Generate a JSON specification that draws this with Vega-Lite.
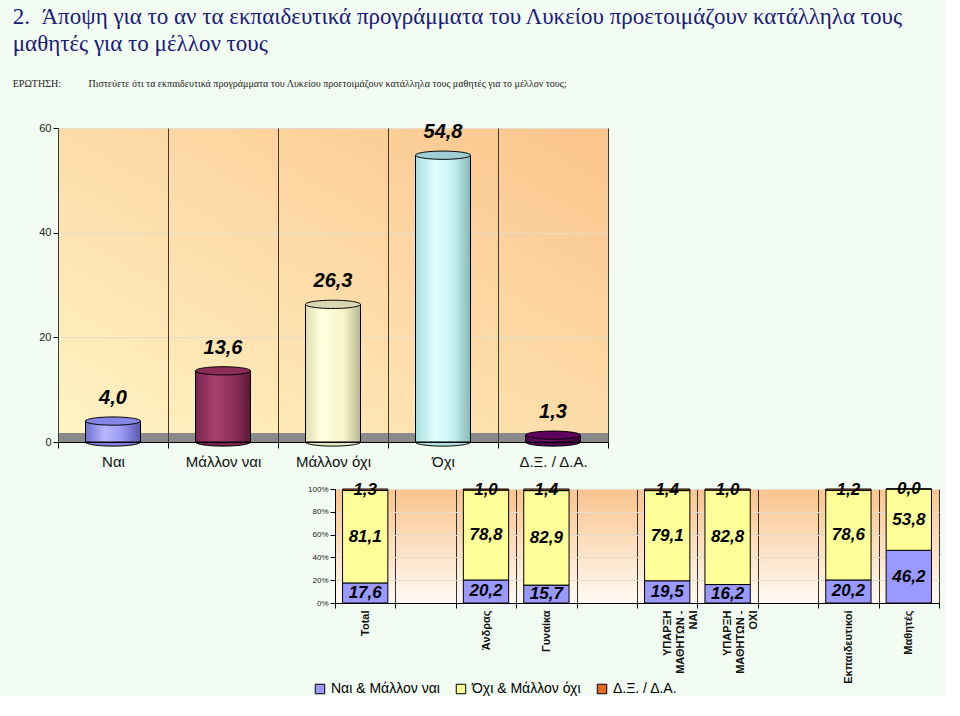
{
  "$schema": "https://vega.github.io/schema/vega-lite/v6.json",
  "background": "#f3fcf3",
  "padding": {"left": 12, "top": 6, "right": 5, "bottom": 0},
  "config": {
    "font": "Liberation Sans",
    "view": {"stroke": null}
  },
  "title": {
    "text": ["2.\u00a0\u00a0Άποψη για το αν τα εκπαιδευτικά προγράμματα του Λυκείου προετοιμάζουν κατάλληλα τους", "μαθητές για το μέλλον τους"],
    "subtitle": "\u00a0\u00a0\u00a0ΕΡΩΤΗΣΗ:\u00a0\u00a0\u00a0\u00a0\u00a0\u00a0\u00a0\u00a0\u00a0\u00a0\u00a0Πιστεύετε ότι τα εκπαιδευτικά προγράμματα του Λυκείου προετοιμάζουν κατάλληλα τους μαθητές για το μέλλον τους;",
    "anchor": "start",
    "frame": "bounds",
    "font": "Liberation Serif",
    "fontSize": 23,
    "fontWeight": "normal",
    "color": "#1a1a78",
    "lineHeight": 27,
    "subtitleFont": "Liberation Serif",
    "subtitleFontSize": 10,
    "subtitleColor": "#222222",
    "subtitlePadding": 23,
    "offset": 33
  },
  "spacing": 11,
  "vconcat": [
    {
      "spacing": 19,
      "hconcat": [
        {
          "width": 1,
          "height": 314,
          "data": {"values": [{"a": 1}]},
          "mark": {"type": "point", "opacity": 0},
          "encoding": {}
        },
        {
          "width": 550,
          "height": 314,
          "view": {"stroke": null, "fill": {"gradient": "linear", "x1": 1, "y1": 0, "x2": 0, "y2": 1, "stops": [{"offset": 0, "color": "#fbc48c"}, {"offset": 1, "color": "#fff4c4"}]}},
          "data": {"values": [
            {"cat": "Ναι", "v": 4.0},
            {"cat": "Μάλλον ναι", "v": 13.6},
            {"cat": "Μάλλον όχι", "v": 26.3},
            {"cat": "Όχι", "v": 54.8},
            {"cat": "Δ.Ξ. / Δ.Α.", "v": 1.3}
          ]},
          "transform": [{"calculate": "replace(format(datum.v, '.1f'), '.', ',')", "as": "lbl"}],
          "encoding": {
            "x": {"field": "cat", "type": "nominal", "sort": null,
              "scale": {"paddingInner": 0, "paddingOuter": 0},
              "axis": {"title": null, "labelAngle": 0, "labelFontSize": 15, "labelColor": "#111111", "labelPadding": 6,
                "tickBand": "extent", "grid": true, "gridColor": "#3a3a3a", "gridWidth": 1,
                "domainColor": "#000000", "tickColor": "#000000", "tickSize": 6}}
          },
          "layer": [
            {
              "mark": {"type": "rect", "color": "#8a8a8a"},
              "encoding": {"y": {"datum": 0, "type": "quantitative", "scale": {"domain": [0, 60], "nice": false},
                "axis": {"title": null, "values": [0, 20, 40, 60], "grid": true, "gridColor": "#e6dccd", "labelFontSize": 11, "labelColor": "#222222", "domainColor": "#666666", "tickColor": "#000000", "tickSize": 5, "labelPadding": 2}},
                "y2": {"datum": 1.7}}
            },
            {
              "mark": {"type": "point", "shape": "M-1,0A1,0.15,0,1,1,1,0A1,0.15,0,1,1,-1,0Z", "size": 3025, "filled": true, "opacity": 1, "stroke": "#000000", "strokeWidth": 1},
              "encoding": {
                "y": {"datum": 0, "type": "quantitative"},
                "fill": {"condition": [
                  {"test": "datum.cat === 'Ναι'", "value": "#8080dd"},
                  {"test": "datum.cat === 'Μάλλον ναι'", "value": "#7a2450"},
                  {"test": "datum.cat === 'Μάλλον όχι'", "value": "#e8e6bc"},
                  {"test": "datum.cat === 'Όχι'", "value": "#b0e4e4"}
                ], "value": "#500050"}
              }
            },
            {
              "mark": {"type": "bar", "width": {"band": 0.5}, "stroke": "#000000", "strokeWidth": 1},
              "encoding": {
                "y": {"field": "v", "type": "quantitative"},
                "fill": {"condition": [
                  {"test": "datum.cat === 'Ναι'", "value": {"gradient": "linear", "x1": 0, "y1": 0, "x2": 1, "y2": 0, "stops": [{"offset": 0, "color": "#6f6fd0"}, {"offset": 0.35, "color": "#b8b8ff"}, {"offset": 0.65, "color": "#9b9bf5"}, {"offset": 1, "color": "#5a5ab0"}]}},
                  {"test": "datum.cat === 'Μάλλον ναι'", "value": {"gradient": "linear", "x1": 0, "y1": 0, "x2": 1, "y2": 0, "stops": [{"offset": 0, "color": "#7a2450"}, {"offset": 0.35, "color": "#a8406f"}, {"offset": 0.7, "color": "#8e2e5c"}, {"offset": 1, "color": "#5a1838"}]}},
                  {"test": "datum.cat === 'Μάλλον όχι'", "value": {"gradient": "linear", "x1": 0, "y1": 0, "x2": 1, "y2": 0, "stops": [{"offset": 0, "color": "#e0dfb0"}, {"offset": 0.3, "color": "#ffffe0"}, {"offset": 0.7, "color": "#f5f5c8"}, {"offset": 1, "color": "#b8b690"}]}},
                  {"test": "datum.cat === 'Όχι'", "value": {"gradient": "linear", "x1": 0, "y1": 0, "x2": 1, "y2": 0, "stops": [{"offset": 0, "color": "#a8dede"}, {"offset": 0.35, "color": "#e0ffff"}, {"offset": 0.7, "color": "#c4f0f0"}, {"offset": 1, "color": "#88b8b8"}]}}
                ], "value": {"gradient": "linear", "x1": 0, "y1": 0, "x2": 1, "y2": 0, "stops": [{"offset": 0, "color": "#500050"}, {"offset": 0.4, "color": "#7a1a7a"}, {"offset": 1, "color": "#3a003a"}]}}
              }
            },
            {
              "mark": {"type": "point", "shape": "M-1,0A1,0.15,0,1,1,1,0A1,0.15,0,1,1,-1,0Z", "size": 3025, "filled": true, "opacity": 1, "stroke": "#000000", "strokeWidth": 1},
              "encoding": {
                "y": {"field": "v", "type": "quantitative"},
                "fill": {"condition": [
                  {"test": "datum.cat === 'Ναι'", "value": "#8585e6"},
                  {"test": "datum.cat === 'Μάλλον ναι'", "value": "#8c2c5a"},
                  {"test": "datum.cat === 'Μάλλον όχι'", "value": "#d9d8b2"},
                  {"test": "datum.cat === 'Όχι'", "value": "#9fcfd4"}
                ], "value": "#5c005c"}
              }
            },
            {
              "mark": {"type": "text", "fontSize": 20, "fontWeight": "bold", "fontStyle": "italic", "baseline": "middle", "dy": -23, "color": "#000000"},
              "encoding": {
                "y": {"field": "v", "type": "quantitative"},
                "text": {"field": "lbl", "type": "nominal"}
              }
            }
          ]
        }
      ]
    },
    {
      "spacing": 10,
      "hconcat": [
        {
          "width": 282,
          "height": 114,
          "data": {"values": [{"a": 1}]},
          "mark": {"type": "point", "opacity": 0},
          "encoding": {}
        },
        {
          "width": 604,
          "height": 114,
          "view": {"stroke": null, "fill": {"gradient": "linear", "x1": 0, "y1": 0, "x2": 0, "y2": 1, "stops": [{"offset": 0, "color": "#f9c48e"}, {"offset": 1, "color": "#fffaf3"}]}},
          "data": {"values": [
            {"group": "Total", "series": "Ναι & Μάλλον ναι", "v": 17.6},
            {"group": "Total", "series": "Όχι & Μάλλον όχι", "v": 81.1},
            {"group": "Total", "series": "Δ.Ξ. / Δ.Α.", "v": 1.3},
            {"group": "Άνδρας", "series": "Ναι & Μάλλον ναι", "v": 20.2},
            {"group": "Άνδρας", "series": "Όχι & Μάλλον όχι", "v": 78.8},
            {"group": "Άνδρας", "series": "Δ.Ξ. / Δ.Α.", "v": 1.0},
            {"group": "Γυναίκα", "series": "Ναι & Μάλλον ναι", "v": 15.7},
            {"group": "Γυναίκα", "series": "Όχι & Μάλλον όχι", "v": 82.9},
            {"group": "Γυναίκα", "series": "Δ.Ξ. / Δ.Α.", "v": 1.4},
            {"group": "ΥΠΑΡΞΗ ΜΑΘΗΤΩΝ - ΝΑΙ", "series": "Ναι & Μάλλον ναι", "v": 19.5},
            {"group": "ΥΠΑΡΞΗ ΜΑΘΗΤΩΝ - ΝΑΙ", "series": "Όχι & Μάλλον όχι", "v": 79.1},
            {"group": "ΥΠΑΡΞΗ ΜΑΘΗΤΩΝ - ΝΑΙ", "series": "Δ.Ξ. / Δ.Α.", "v": 1.4},
            {"group": "ΥΠΑΡΞΗ ΜΑΘΗΤΩΝ - ΟΧΙ", "series": "Ναι & Μάλλον ναι", "v": 16.2},
            {"group": "ΥΠΑΡΞΗ ΜΑΘΗΤΩΝ - ΟΧΙ", "series": "Όχι & Μάλλον όχι", "v": 82.8},
            {"group": "ΥΠΑΡΞΗ ΜΑΘΗΤΩΝ - ΟΧΙ", "series": "Δ.Ξ. / Δ.Α.", "v": 1.0},
            {"group": "Εκπαιδευτικοί", "series": "Ναι & Μάλλον ναι", "v": 20.2},
            {"group": "Εκπαιδευτικοί", "series": "Όχι & Μάλλον όχι", "v": 78.6},
            {"group": "Εκπαιδευτικοί", "series": "Δ.Ξ. / Δ.Α.", "v": 1.2},
            {"group": "Μαθητές", "series": "Ναι & Μάλλον ναι", "v": 46.2},
            {"group": "Μαθητές", "series": "Όχι & Μάλλον όχι", "v": 53.8},
            {"group": "Μαθητές", "series": "Δ.Ξ. / Δ.Α.", "v": 0.0}
          ]},
          "transform": [
            {"stack": "v", "groupby": ["group"], "offset": "normalize", "as": ["y0", "y1"]},
            {"calculate": "(datum.y0 + datum.y1) / 2", "as": "ym"},
            {"calculate": "replace(format(datum.v, '.1f'), '.', ',')", "as": "lbl"}
          ],
          "encoding": {
            "x": {"field": "group", "type": "nominal",
              "scale": {"domain": ["Total", " ", "Άνδρας", "Γυναίκα", "  ", "ΥΠΑΡΞΗ ΜΑΘΗΤΩΝ - ΝΑΙ", "ΥΠΑΡΞΗ ΜΑΘΗΤΩΝ - ΟΧΙ", "   ", "Εκπαιδευτικοί", "Μαθητές"], "paddingInner": 0, "paddingOuter": 0},
              "axis": {"title": null, "labelAngle": -90, "labelFontSize": 11, "labelFontWeight": "bold", "labelColor": "#111111",
                "tickBand": "extent", "grid": true, "gridColor": "#333333", "tickColor": "#000000", "domainColor": "#000000", "labelPadding": 2,
                "labelExpr": "datum.value == 'ΥΠΑΡΞΗ ΜΑΘΗΤΩΝ - ΝΑΙ' ? ['ΥΠΑΡΞΗ', 'ΜΑΘΗΤΩΝ -', 'ΝΑΙ'] : datum.value == 'ΥΠΑΡΞΗ ΜΑΘΗΤΩΝ - ΟΧΙ' ? ['ΥΠΑΡΞΗ', 'ΜΑΘΗΤΩΝ -', 'ΟΧΙ'] : datum.value"}}
          },
          "layer": [
            {
              "mark": {"type": "bar", "width": {"band": 0.75}, "stroke": "#000000", "strokeWidth": 1},
              "encoding": {
                "y": {"field": "y0", "type": "quantitative", "scale": {"domain": [0, 1], "nice": false},
                  "axis": {"title": null, "format": ".0%", "values": [0, 0.2, 0.4, 0.6, 0.8, 1], "labelOverlap": false, "labelFlush": false, "labelSeparation": 0, "labelFontSize": 8, "labelColor": "#222222", "grid": true, "gridColor": "#e8dccc", "tickColor": "#000000", "domainColor": "#000000", "tickSize": 5}},
                "y2": {"field": "y1"},
                "fill": {"field": "series", "type": "nominal",
                  "scale": {"domain": ["Ναι & Μάλλον ναι", "Όχι & Μάλλον όχι", "Δ.Ξ. / Δ.Α."], "range": ["#9999ff", "#ffff99", "#e36c25"]},
                  "legend": {"title": null, "orient": "none", "legendX": 298, "legendY": 554, "direction": "horizontal", "symbolType": "square", "symbolSize": 90, "symbolStrokeColor": "#000000", "symbolStrokeWidth": 1, "labelFontSize": 14, "labelColor": "#000000", "columnPadding": 14, "labelOffset": 4}}
              }
            },
            {
              "mark": {"type": "text", "fontSize": 17, "fontWeight": "bold", "fontStyle": "italic", "color": "#000000"},
              "encoding": {
                "y": {"field": "ym", "type": "quantitative",
                  "axis": {"title": null, "format": ".0%", "values": [0, 0.2, 0.4, 0.6, 0.8, 1], "labelOverlap": false, "labelFlush": false, "labelSeparation": 0, "labelFontSize": 8, "labelColor": "#222222", "grid": true, "gridColor": "#e8dccc", "tickColor": "#000000", "domainColor": "#000000", "tickSize": 5}},
                "text": {"field": "lbl", "type": "nominal"}
              }
            }
          ]
        }
      ]
    }
  ]
}
